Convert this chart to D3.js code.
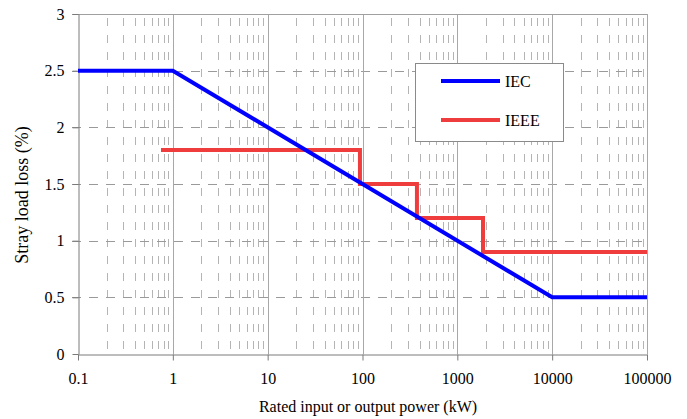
<!DOCTYPE html>
<html>
<head>
<meta charset="utf-8">
<script src="https://cdn.jsdelivr.net/npm/d3@7"></script>
<style>
body{margin:0;background:#fff;}
svg text{font-family:"Liberation Serif",Tinos,"Times New Roman",Times,serif;fill:#000;}
</style>
</head>
<body>
<div id="Chart"></div>
<script>
// data ---------------------------------------------------------------
var IecPower = [0.1, 1, 10000, 100000];
var IecLoss = [2.5, 2.5, 0.5, 0.5];
var IeeePower = [0.75, 94, 94, 375, 375, 1865, 1865, 100000];
var IeeeLoss = [1.8, 1.8, 1.5, 1.5, 1.2, 1.2, 0.9, 0.9];
var XTicks = [0.1, 1, 10, 100, 1000, 10000, 100000];
var XTickLabels = ["0.1", "1", "10", "100", "1000", "10000", "100000"];
var YTicks = [0, 0.5, 1, 1.5, 2, 2.5, 3];
var YTickLabels = ["0", "0.5", "1", "1.5", "2", "2.5", "3"];
var SeriesNames = ["IEC", "IEEE"];
var SeriesColors = ["#0000ff", "#ef3c3c"];

var Width = 687, Height = 419;
var Left = 78, Right = 647, Top = 14, Bottom = 354;
var FontName = "'Liberation Serif', Tinos, 'Times New Roman', Times, serif";

var Svg = d3.select("#Chart").append("svg")
	.attr("width", Width)
	.attr("height", Height);

var XScale = d3.scaleLog().domain([0.1, 100000]).range([Left, Right]);
var YScale = d3.scaleLinear().domain([0, 3]).range([Bottom, Top]);

//minor vertical grid (2..9 of each decade)------------------------------
var MinorTicks = [];
for (var d = 0; d < XTicks.length - 1; d++) {
	for (var m = 2; m <= 9; m++) {
		MinorTicks.push(XTicks[d] * m);
	}
}
Svg.append("g").selectAll("line")
	.data(MinorTicks)
	.enter()
	.append("line")
	.attr("x1", function(v){ return Math.round(XScale(v)) + 0.5; })
	.attr("x2", function(v){ return Math.round(XScale(v)) + 0.5; })
	.attr("y1", Top)
	.attr("y2", Bottom)
	.attr("stroke", "#b4b4b4")
	.attr("stroke-width", 1)
	.attr("stroke-dasharray", "8,9")
	.attr("stroke-dashoffset", -4);

//horizontal grid---------------------------------------------------------
Svg.append("g").selectAll("line")
	.data(YTicks.slice(1, YTicks.length - 1))
	.enter()
	.append("line")
	.attr("x1", Left - 6)
	.attr("x2", Right)
	.attr("y1", function(v){ return Math.round(YScale(v)) + 0.5; })
	.attr("y2", function(v){ return Math.round(YScale(v)) + 0.5; })
	.attr("stroke", "#9a9a9a")
	.attr("stroke-width", 1)
	.attr("stroke-dasharray", "9,8");

//major vertical grid------------------------------------------------------
Svg.append("g").selectAll("line")
	.data(XTicks.slice(1))
	.enter()
	.append("line")
	.attr("x1", function(v){ return Math.round(XScale(v)) + 0.5; })
	.attr("x2", function(v){ return Math.round(XScale(v)) + 0.5; })
	.attr("y1", Top)
	.attr("y2", Bottom)
	.attr("stroke", "#a8a8a8")
	.attr("stroke-width", 1);

//top border
Svg.append("line")
	.attr("x1", Left - 6).attr("x2", Right)
	.attr("y1", Top + 0.5).attr("y2", Top + 0.5)
	.attr("stroke", "#a0a0a0");

//axes---------------------------------------------------------------------
var XAxis = d3.axisBottom(XScale)
	.tickValues(XTicks)
	.tickFormat(function(v, i){ return XTickLabels[i]; })
	.tickSize(6)
	.tickSizeOuter(0)
	.tickPadding(12);
var XAxisG = Svg.append("g")
	.attr("transform", "translate(0," + (Bottom + 0.5) + ")")
	.call(XAxis)
	.attr("font-family", FontName);
XAxisG.select(".domain").attr("stroke", "#7a7a7a");
XAxisG.selectAll(".tick line").attr("stroke", "#7a7a7a");
XAxisG.selectAll("text")
	.style("font-family", FontName)
	.style("font-size", "16px")
	.attr("fill", "#000");

var YAxis = d3.axisLeft(YScale)
	.tickValues(YTicks)
	.tickFormat(function(v, i){ return YTickLabels[i]; })
	.tickSize(6)
	.tickSizeOuter(0)
	.tickPadding(8);
var YAxisG = Svg.append("g")
	.attr("transform", "translate(" + (Left + 0.5) + ",0)")
	.call(YAxis)
	.attr("font-family", FontName);
YAxisG.select(".domain").attr("stroke", "#7a7a7a");
YAxisG.selectAll(".tick line").attr("stroke", "#7a7a7a");
YAxisG.selectAll("text")
	.style("font-family", FontName)
	.style("font-size", "16px")
	.attr("fill", "#000");

//axis titles
Svg.append("text")
	.attr("x", 368)
	.attr("y", 412)
	.attr("text-anchor", "middle")
	.style("font-family", FontName)
	.style("font-size", "16px")
	.text("Rated input or output power (kW)");

Svg.append("text")
	.attr("transform", "translate(28,195) rotate(-90)")
	.attr("text-anchor", "middle")
	.style("font-family", FontName)
	.style("font-size", "18px")
	.text("Stray load loss (%)");

//series lines--------------------------------------------------------------
var LineGen = d3.line()
	.x(function(p){ return XScale(p[0]); })
	.y(function(p){ return YScale(p[1]); });

var IeeeData = d3.zip(IeeePower, IeeeLoss);
var IecData = d3.zip(IecPower, IecLoss);

Svg.append("path")
	.datum(IeeeData)
	.attr("d", LineGen)
	.attr("fill", "none")
	.attr("stroke", SeriesColors[1])
	.attr("stroke-width", 4);

Svg.append("path")
	.datum(IecData)
	.attr("d", LineGen)
	.attr("fill", "none")
	.attr("stroke", SeriesColors[0])
	.attr("stroke-width", 4);

//legend---------------------------------------------------------------------
var Legend = Svg.append("g").attr("transform", "translate(415,63)");
Legend.append("rect")
	.attr("x", 0.5).attr("y", 0.5)
	.attr("width", 148).attr("height", 78)
	.attr("fill", "#fff")
	.attr("stroke", "#8a8a8a");
Legend.selectAll("line.Key")
	.data(SeriesNames)
	.enter()
	.append("line")
	.attr("class", "Key")
	.attr("x1", 26).attr("x2", 85)
	.attr("y1", function(n, i){ return 18 + i * 39; })
	.attr("y2", function(n, i){ return 18 + i * 39; })
	.attr("stroke", function(n, i){ return SeriesColors[i]; })
	.attr("stroke-width", 4);
Legend.selectAll("text.Key")
	.data(SeriesNames)
	.enter()
	.append("text")
	.attr("class", "Key")
	.attr("x", 90)
	.attr("y", function(n, i){ return 24 + i * 38.5; })
	.style("font-family", FontName)
	.style("font-size", "16px")
	.text(function(n){ return n; });
</script>
</body>
</html>
